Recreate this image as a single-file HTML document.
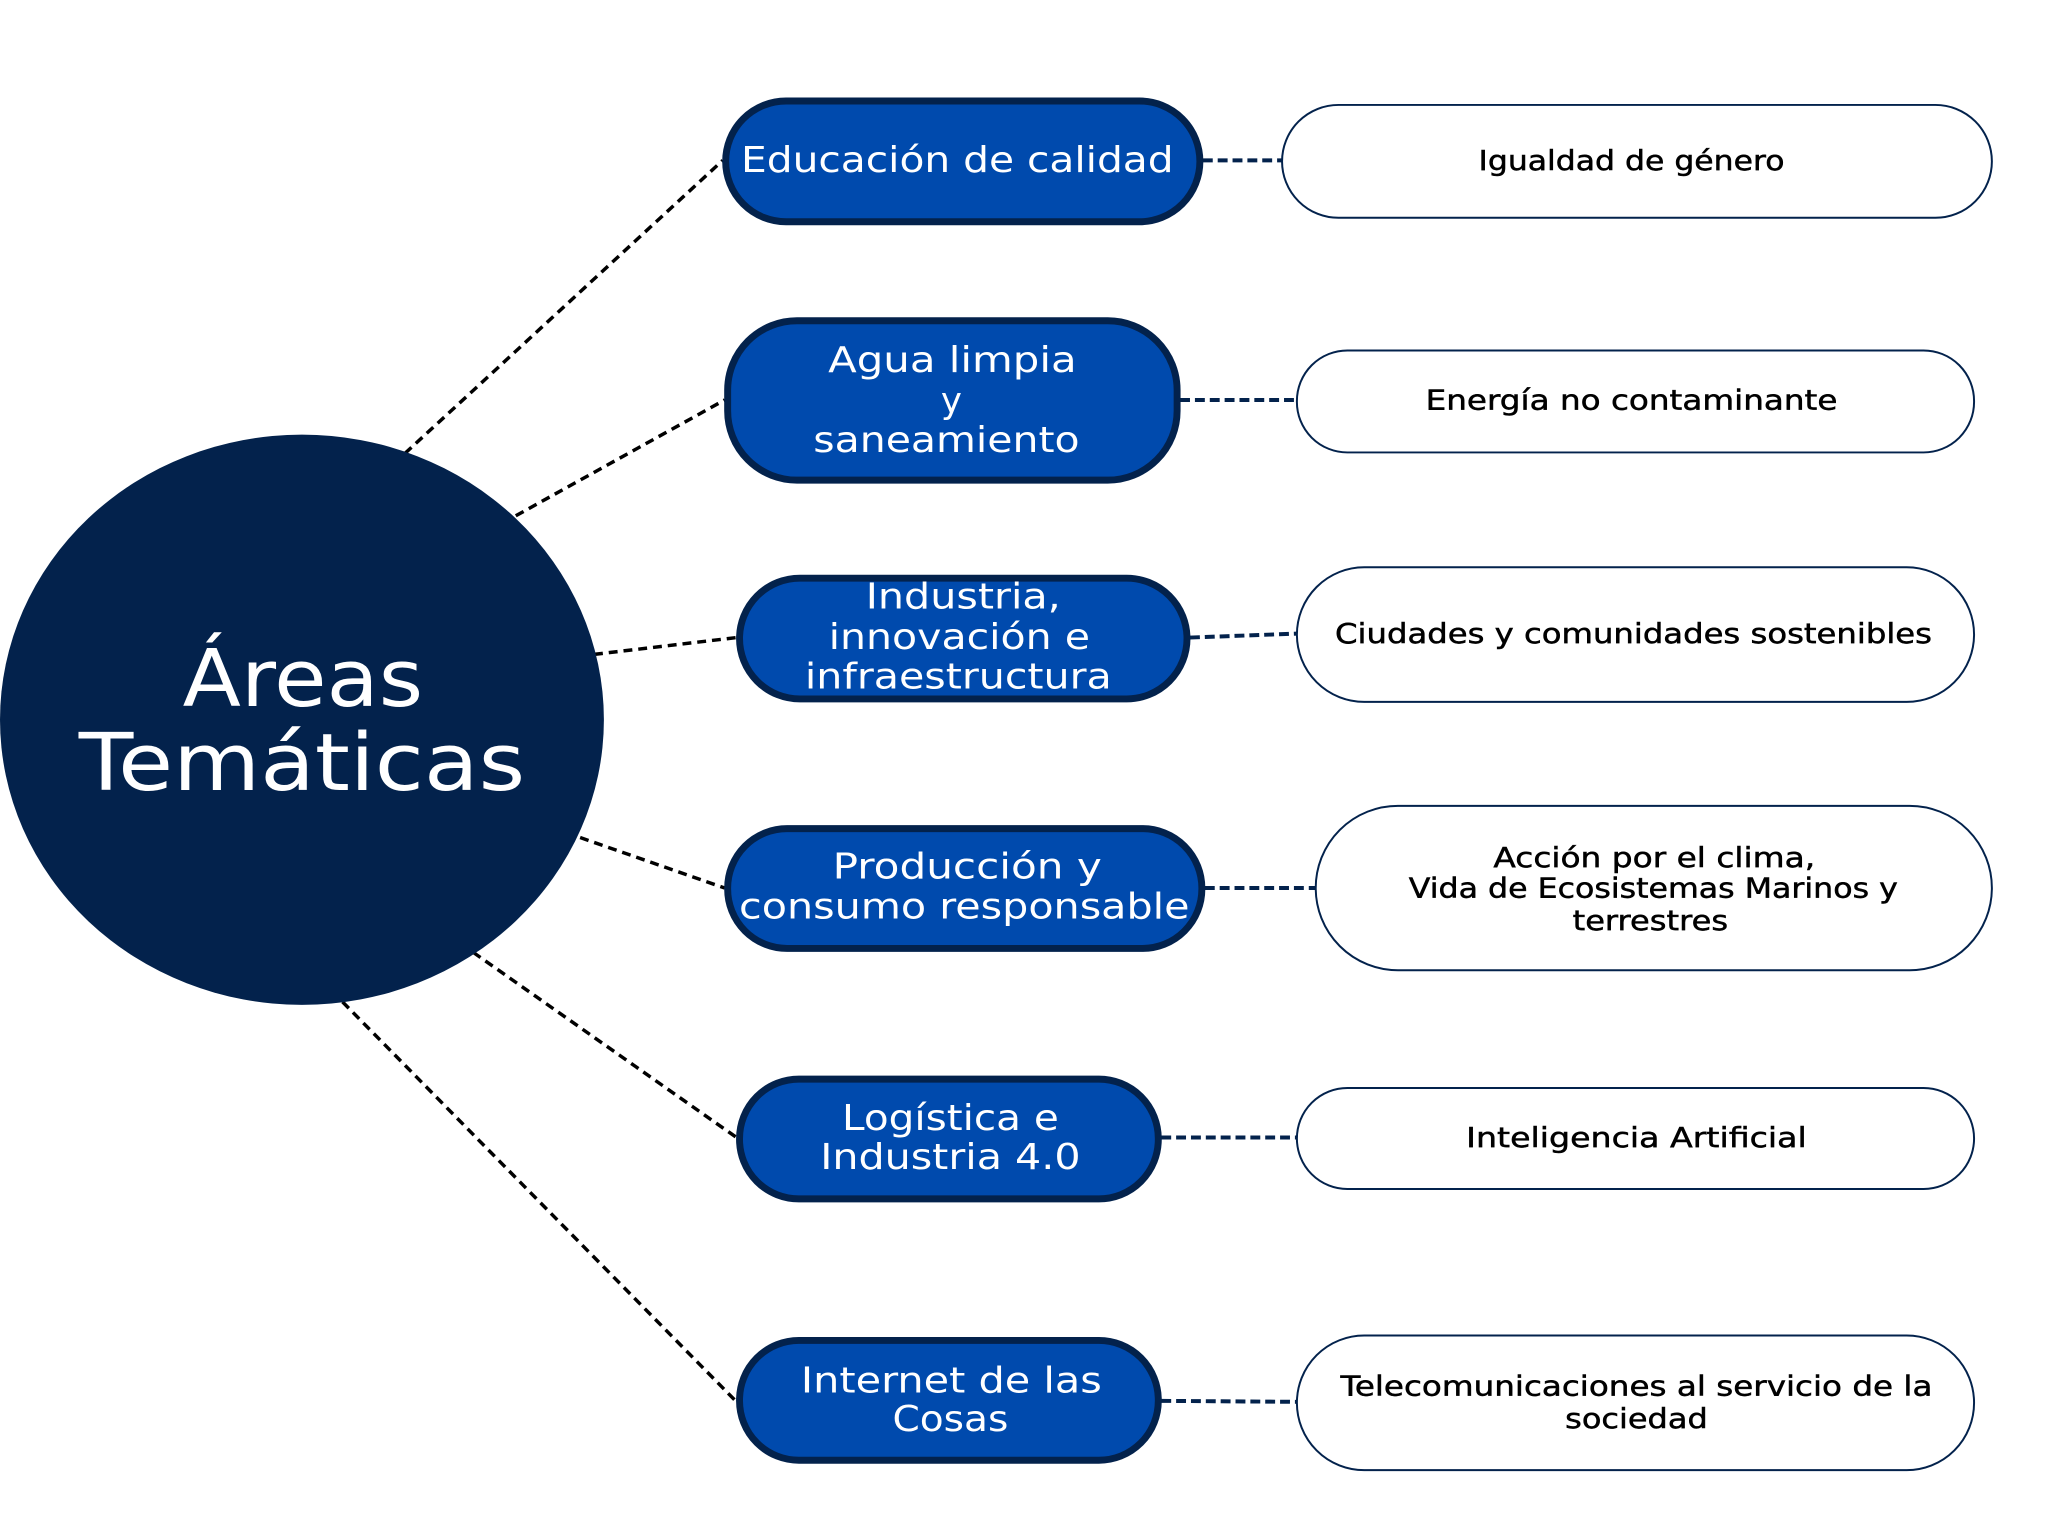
<!DOCTYPE html>
<html><head><meta charset="utf-8"><style>html,body{margin:0;padding:0;background:#fff}svg{display:block}</style></head>
<body>
<svg width="2048" height="1536" viewBox="0 0 2048 1536" xmlns="http://www.w3.org/2000/svg" font-family="'DejaVu Sans','Liberation Sans',sans-serif">
<rect width="2048" height="1536" fill="#fff"/>
<g transform="scale(0.99)">
<g stroke="#000" stroke-width="3.5" stroke-dasharray="9,6" fill="none">
<line x1="409" y1="458" x2="730" y2="162"/>
<line x1="521" y1="521" x2="732" y2="404"/>
<line x1="600" y1="661" x2="744" y2="644"/>
<line x1="586" y1="846" x2="732" y2="897"/>
<line x1="478" y1="962" x2="744" y2="1149"/>
<line x1="346" y1="1012" x2="744" y2="1416"/>
</g>
<g stroke="#03224c" stroke-width="4" stroke-dasharray="10,5" fill="none">
<line x1="1215" y1="162" x2="1295" y2="162"/>
<line x1="1192" y1="404" x2="1310" y2="404"/>
<line x1="1202" y1="644" x2="1310" y2="640"/>
<line x1="1217" y1="897" x2="1329" y2="897"/>
<line x1="1173" y1="1149" x2="1310" y2="1149"/>
<line x1="1173" y1="1415" x2="1310" y2="1416"/>
</g>
<ellipse cx="305" cy="727" rx="305" ry="288" fill="#03224c"/>
<g fill="#fff" font-size="80" text-anchor="middle">
<text x="306" y="713" textLength="243" lengthAdjust="spacingAndGlyphs">Áreas</text>
<text x="305" y="798" textLength="451" lengthAdjust="spacingAndGlyphs">Temáticas</text>
</g>
<g fill="#004aad" stroke="#03224c" stroke-width="7">
<rect x="733" y="102" width="479" height="122" rx="61"/>
<rect x="735" y="324" width="454" height="161" rx="70"/>
<rect x="747" y="584" width="452" height="122" rx="61"/>
<rect x="735" y="837" width="479" height="121" rx="60"/>
<rect x="747" y="1090" width="423" height="121" rx="60"/>
<rect x="747" y="1354" width="423" height="121" rx="60"/>
</g>
<g fill="#fff" stroke="#03224c" stroke-width="2">
<rect x="1295" y="106" width="717" height="114" rx="57"/>
<rect x="1310" y="354" width="684" height="103" rx="51"/>
<rect x="1310" y="573" width="684" height="136" rx="68"/>
<rect x="1329" y="814" width="683" height="166" rx="83"/>
<rect x="1310" y="1099" width="684" height="102" rx="51"/>
<rect x="1310" y="1349" width="684" height="136" rx="68"/>
</g>
<g fill="#fff" font-size="36" text-anchor="middle" dominant-baseline="central">
<text x="967" y="162" textLength="437" lengthAdjust="spacingAndGlyphs">Educación de calidad</text>
<text x="962" y="364" textLength="251" lengthAdjust="spacingAndGlyphs">Agua limpia</text>
<text x="961" y="405">y</text>
<text x="956" y="445" textLength="269" lengthAdjust="spacingAndGlyphs">saneamiento</text>
<text x="973" y="603" textLength="197" lengthAdjust="spacingAndGlyphs">Industria,</text>
<text x="969" y="644" textLength="264" lengthAdjust="spacingAndGlyphs">innovación e</text>
<text x="968" y="684" textLength="310" lengthAdjust="spacingAndGlyphs">infraestructura</text>
<text x="977" y="876" textLength="272" lengthAdjust="spacingAndGlyphs">Producción y</text>
<text x="974" y="916" textLength="455" lengthAdjust="spacingAndGlyphs">consumo responsable</text>
<text x="960" y="1130" textLength="219" lengthAdjust="spacingAndGlyphs">Logística e</text>
<text x="960" y="1169" textLength="263" lengthAdjust="spacingAndGlyphs">Industria 4.0</text>
<text x="961" y="1395" textLength="304" lengthAdjust="spacingAndGlyphs">Internet de las</text>
<text x="960" y="1434" textLength="117" lengthAdjust="spacingAndGlyphs">Cosas</text>
</g>
<g fill="#000" font-size="28" text-anchor="middle" dominant-baseline="central" stroke="#000" stroke-width="0.5">
<text x="1648" y="162" textLength="309" lengthAdjust="spacingAndGlyphs">Igualdad de género</text>
<text x="1648" y="404" textLength="416" lengthAdjust="spacingAndGlyphs">Energía no contaminante</text>
<text x="1650" y="640" textLength="603" lengthAdjust="spacingAndGlyphs">Ciudades y comunidades sostenibles</text>
<text x="1671" y="866" textLength="325" lengthAdjust="spacingAndGlyphs">Acción por el clima,</text>
<text x="1670" y="897" textLength="494" lengthAdjust="spacingAndGlyphs">Vida de Ecosistemas Marinos y</text>
<text x="1667" y="930" textLength="157" lengthAdjust="spacingAndGlyphs">terrestres</text>
<text x="1653" y="1149" textLength="344" lengthAdjust="spacingAndGlyphs">Inteligencia Artificial</text>
<text x="1653" y="1400" textLength="598" lengthAdjust="spacingAndGlyphs">Telecomunicaciones al servicio de la</text>
<text x="1653" y="1433" textLength="144" lengthAdjust="spacingAndGlyphs">sociedad</text>
</g>
</g>
</svg>
</body></html>
